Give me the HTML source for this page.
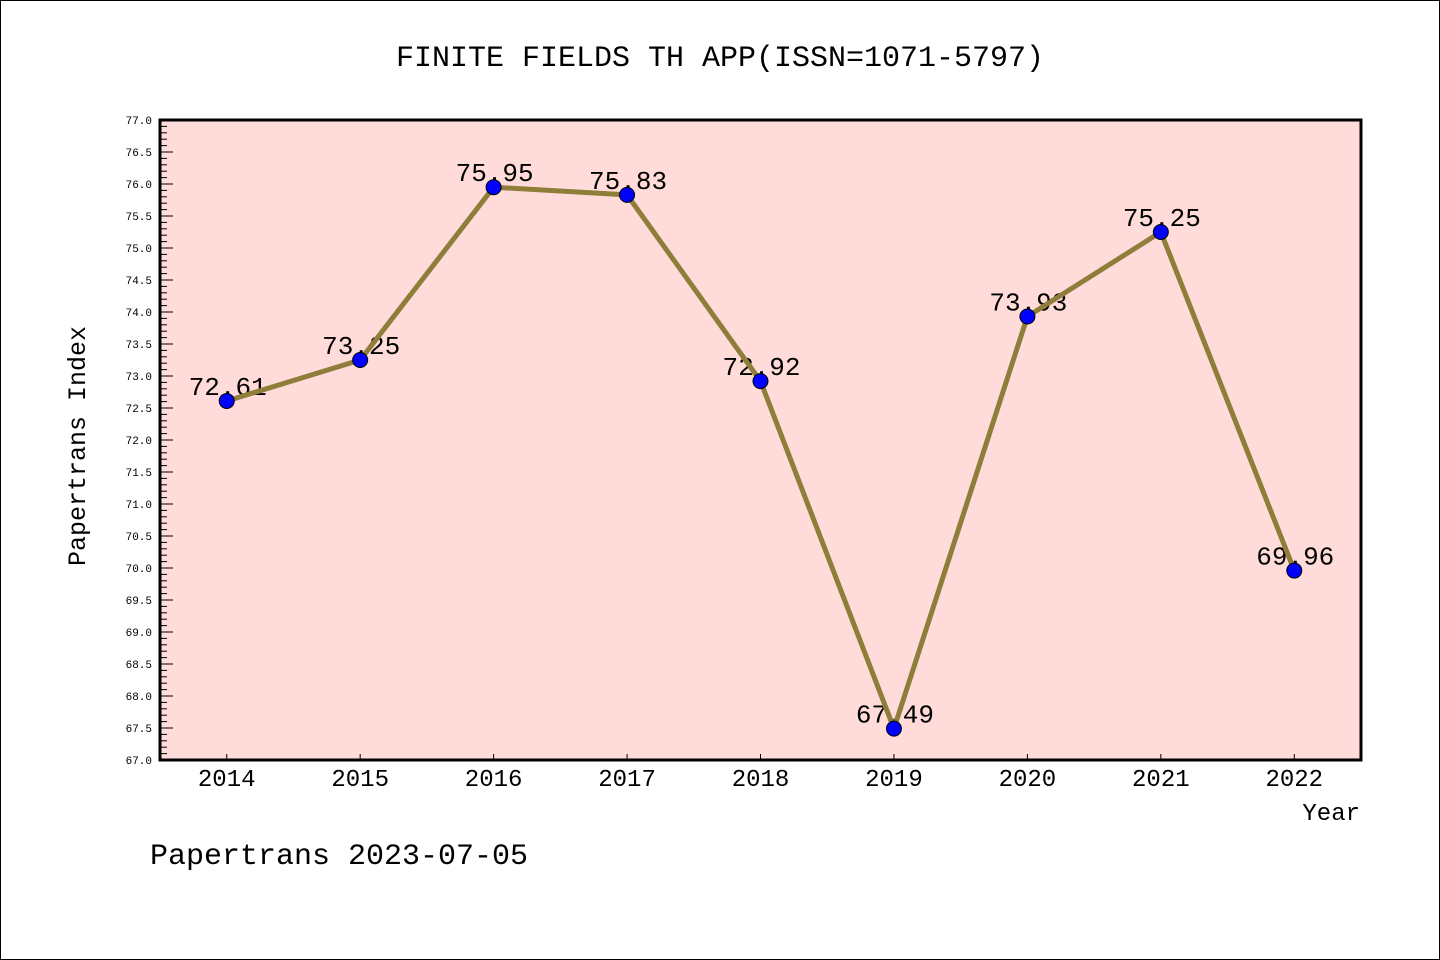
<!DOCTYPE html>
<html><head><meta charset="utf-8"><style>
body{margin:0;background:#fff}
svg{display:block}
text{font-family:"Liberation Mono","Noto Sans CJK SC",monospace}
</style></head><body>
<svg id="chart" width="1440" height="960" xmlns="http://www.w3.org/2000/svg">
<rect x="0.5" y="0.5" width="1439" height="959" fill="#fff" stroke="#000"/>
<text x="720" y="66" font-size="30" text-anchor="middle">FINITE FIELDS TH APP(ISSN=1071-5797)</text>
<rect x="160" y="120" width="1201" height="640" fill="#ffdcd9"/>
<g id="grid"></g>
<g id="labels"></g>
<g id="marks"></g>
<rect x="160" y="120" width="1201" height="640" fill="none" stroke="#000" stroke-width="3"/>
<text transform="translate(85,446) rotate(-90)" font-size="25" text-anchor="middle">Papertrans Index</text>
<text x="1360" y="820" font-size="24" text-anchor="end">Year</text>
<text x="150" y="864" font-size="30">Papertrans 2023-07-05</text>
</svg>
<script>
const categories=["2014","2015","2016","2017","2018","2019","2020","2021","2022"];
const values=[72.61,73.25,75.95,75.83,72.92,67.49,73.93,75.25,69.96];
const valueLabels=["72.61","73.25","75.95","75.83","72.92","67.49","73.93","75.25","69.96"];
const yMin=67,yMax=77;
const L=160,R=1361,T=120,B=760;
const NS="http://www.w3.org/2000/svg";
const step=(R-L)/categories.length;
function xs(i){return L+(i+0.5)*step;}
function ys(v){return B-(v-yMin)/(yMax-yMin)*(B-T);}
function mk(tag,attrs,parent){const e=document.createElementNS(NS,tag);for(const k in attrs)e.setAttribute(k,attrs[k]);parent.appendChild(e);return e;}
const grid=document.getElementById('grid'),labels=document.getElementById('labels'),marks=document.getElementById('marks');
for(let k=0;k<=100;k++){
 const v=yMin+k*0.1,y=ys(v),major=k%5===0;
 const t=mk('line',{x1:L,x2:L+(major?13:7),y1:y,y2:y,stroke:'#000','stroke-width':1},grid);
 
 if(major){const tx=mk('text',{x:L-8,y:y+4,'font-size':11,'text-anchor':'end'},grid);tx.textContent=v.toFixed(1);
  }
}
categories.forEach((c,i)=>{
 const t=mk('line',{x1:xs(i),x2:xs(i),y1:B,y2:B-6,stroke:'#000','stroke-width':1},grid);
 
 const tx=mk('text',{x:xs(i),y:B+26,'font-size':24,'text-anchor':'middle'},grid);tx.textContent=c;
 
});
values.forEach((v,i)=>{
 const tx=mk('text',{x:xs(i)+1,y:ys(v)-6,'font-size':26,'text-anchor':'middle'},labels);tx.textContent=valueLabels[i];
 
});
const pl=mk('polyline',{points:values.map((v,i)=>xs(i)+','+ys(v)).join(' '),fill:'none',stroke:'#8f7d3a','stroke-width':5,'stroke-linejoin':'round'},marks);

values.forEach((v,i)=>{
 const c=mk('circle',{cx:xs(i),cy:ys(v),r:7.5,fill:'#0000ff',stroke:'#000','stroke-width':1},marks);
 
});
</script>
</body></html>
